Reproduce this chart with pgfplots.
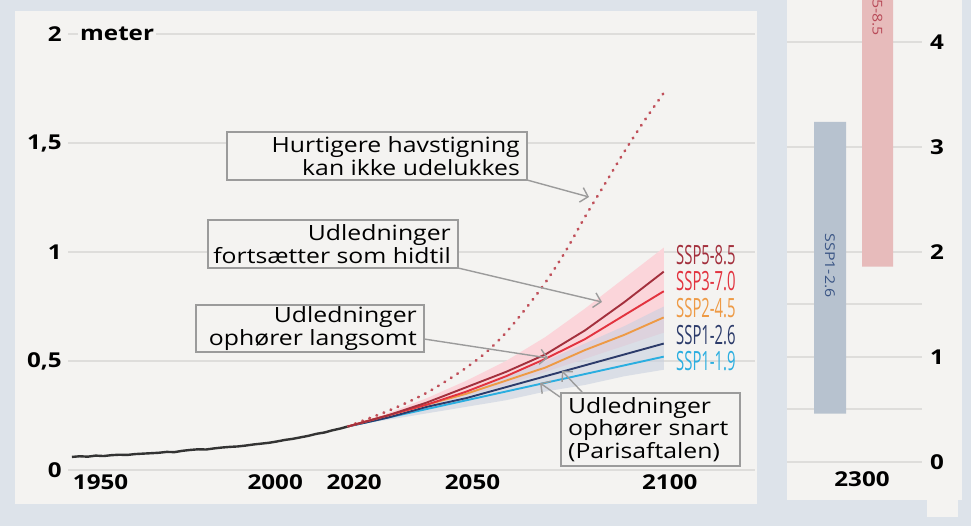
\documentclass[border=0pt]{standalone}
\usepackage{fontspec}
\setmainfont{Open Sans}[FakeStretch=1.18]
\newfontfamily\condfont[FakeStretch=0.56]{Open Sans}
\usepackage{pgfplots}
\pgfplotsset{compat=1.18}
\usetikzlibrary{arrows.meta}
\definecolor{bgout}{HTML}{DDE3EA}
\definecolor{panel}{HTML}{F4F3F1}
\definecolor{gridc}{HTML}{DEDDDB}
\definecolor{boxc}{HTML}{9B9B9B}
\definecolor{sspA}{HTML}{A3303D}
\definecolor{sspB}{HTML}{E2333F}
\definecolor{sspC}{HTML}{EE9A45}
\definecolor{sspD}{HTML}{2C3B6A}
\definecolor{sspE}{HTML}{2AAEE0}
\definecolor{dotc}{HTML}{C0505A}
\definecolor{histc}{HTML}{333333}
\definecolor{pinkband}{HTML}{FBD5DA}
\definecolor{blueband}{HTML}{C9D1DF}
\definecolor{barblue}{HTML}{B7C2CF}
\definecolor{barpink}{HTML}{E7BBBB}
\definecolor{bartxtA}{HTML}{3A5585}
\definecolor{bartxtB}{HTML}{B84A58}
\newcommand{\tickfont}{\fontsize{20.5}{24}\selectfont\bfseries}
\newcommand{\annfont}{\fontsize{21}{22.5}\selectfont}
\newcommand{\sspfont}{\condfont\fontsize{26.5}{26.5}\selectfont}
\begin{document}
\begin{tikzpicture}[x=1pt,y=1pt]
\fill[bgout] (0,0) rectangle (971,526);
\fill[panel] (15,22) rectangle (757,515);
\fill[panel] (787,26) rectangle (962,526);
\fill[panel] (927,9) rectangle (958,31);

\begin{axis}[
  at={(68pt,56pt)}, anchor=south west, scale only axis,
  width=686.5pt, height=453.4pt,
  xmin=1949, xmax=2123, ymin=0, ymax=2.08,
  axis line style={draw=none}, major tick length=0pt,
  xtick={1950,2000,2020,2050,2100},
  xticklabels={\makebox[0pt][l]{\kern-5pt 1950},2000,2020,2050,2100},
  ytick={0,0.5,1,1.5,2},
  yticklabels={0,{0,5},1,{1,5},2},
  ymajorgrids, grid style={gridc, line width=2pt},
  tick label style={font=\tickfont},
  yticklabel style={anchor=east, inner sep=0pt, xshift=-6pt},
  xticklabel style={anchor=north, inner sep=0pt, yshift=-4pt, xshift=6pt},
]
% likely ranges (upper edge forward, lower edge back)
\addplot[fill=pinkband, draw=none] coordinates {
(2020,0.20) (2030,0.26) (2040,0.33) (2050,0.41) (2060,0.50) (2070,0.61) (2080,0.74) (2090,0.88) (2100,1.02)
(2100,0.63) (2090,0.57) (2080,0.51) (2070,0.45) (2060,0.39) (2050,0.34) (2040,0.29) (2030,0.24) (2020,0.20)};
\addplot[fill=blueband, fill opacity=0.6, draw=none] coordinates {
(2020,0.20) (2030,0.25) (2040,0.30) (2050,0.36) (2060,0.43) (2070,0.50) (2080,0.58) (2090,0.66) (2100,0.75)
(2100,0.46) (2090,0.43) (2080,0.39) (2070,0.36) (2060,0.32) (2050,0.29) (2040,0.26) (2030,0.23) (2020,0.20)};
% historical
\addplot[histc, line width=2.4pt] coordinates {
(1950,0.060) (1952,0.063) (1954,0.061) (1956,0.066) (1958,0.064) (1960,0.068)
(1962,0.070) (1964,0.069) (1966,0.073) (1968,0.075) (1970,0.077) (1972,0.079)
(1974,0.083) (1976,0.082) (1978,0.088) (1980,0.092) (1982,0.095) (1984,0.094)
(1986,0.099) (1988,0.103) (1990,0.106) (1992,0.108) (1994,0.112) (1996,0.117)
(1998,0.121) (2000,0.125) (2002,0.131) (2004,0.138) (2006,0.143) (2008,0.150)
(2010,0.157) (2012,0.166) (2014,0.172) (2016,0.182) (2018,0.190) (2020,0.200)};
% dotted high-end
\addplot[dotc, line width=2.8pt, line cap=round, dash pattern=on 0.6pt off 7pt, smooth] coordinates {
(2020,0.20) (2025,0.235) (2030,0.27) (2035,0.31) (2040,0.355) (2045,0.41) (2050,0.47)
(2055,0.54) (2060,0.63) (2065,0.74) (2070,0.86) (2075,1.00) (2080,1.16) (2085,1.31)
(2090,1.46) (2095,1.60) (2100,1.73)};
% scenarios
\addplot[sspE, line width=1.9pt] coordinates {(2020,0.20) (2030,0.24) (2040,0.28) (2050,0.32) (2060,0.36) (2070,0.40) (2080,0.44) (2090,0.48) (2100,0.52)};
\addplot[sspD, line width=1.9pt] coordinates {(2020,0.20) (2030,0.24) (2040,0.29) (2050,0.33) (2060,0.38) (2070,0.43) (2080,0.48) (2090,0.53) (2100,0.58)};
\addplot[sspC, line width=1.9pt] coordinates {(2020,0.20) (2030,0.25) (2040,0.30) (2050,0.35) (2060,0.41) (2070,0.47) (2080,0.55) (2090,0.62) (2100,0.70)};
\addplot[sspB, line width=1.9pt] coordinates {(2020,0.20) (2030,0.25) (2040,0.30) (2050,0.36) (2060,0.43) (2070,0.51) (2080,0.60) (2090,0.71) (2100,0.82)};
\addplot[sspA, line width=1.9pt] coordinates {(2020,0.20) (2030,0.25) (2040,0.31) (2050,0.38) (2060,0.45) (2070,0.53) (2080,0.64) (2090,0.77) (2100,0.91)};
\end{axis}

\begin{axis}[
  at={(787pt,64pt)}, anchor=south west, scale only axis,
  width=135pt, height=462pt,
  xmin=0, xmax=135, ymin=0, ymax=4.4,
  axis line style={draw=none}, major tick length=0pt,
  ytick={0,0.5,1,1.5,2,3,4}, yticklabels={0,,1,,2,3,4},
  yticklabel pos=right,
  xtick={75}, xticklabels={2300},
  ymajorgrids, grid style={gridc, line width=2pt},
  tick label style={font=\tickfont},
  yticklabel style={anchor=west, inner sep=0pt, xshift=8pt},
  xticklabel style={anchor=north, inner sep=0pt, yshift=-9pt},
]
\addplot[fill=barblue, draw=none] coordinates {(27,0.46) (59,0.46) (59,3.24) (27,3.24) (27,0.46)};
\addplot[fill=barpink, draw=none] coordinates {(75,1.86) (106,1.86) (106,6.8) (75,6.8) (75,1.86)};
\node[rotate=-90, inner sep=0pt, text=bartxtA, font=\fontsize{13.5}{14}\selectfont] at (axis cs:43,1.87) {SSP1-2.6};
\node[rotate=-90, inner sep=0pt, text=bartxtB, font=\fontsize{13.5}{14}\selectfont] at (axis cs:90.5,4.36) {SSP5-8.5};
\end{axis}

% y unit label
\node[anchor=west, inner sep=2pt, fill=panel, font=\tickfont] at (78,492) {meter};

% scenario labels
\node[anchor=west, inner sep=0pt, font=\sspfont, text=sspA] at (676,271) {SSP5-8.5};
\node[anchor=west, inner sep=0pt, font=\sspfont, text=sspB] at (676,244.5) {SSP3-7.0};
\node[anchor=west, inner sep=0pt, font=\sspfont, text=sspC] at (676,218) {SSP2-4.5};
\node[anchor=west, inner sep=0pt, font=\sspfont, text=sspD] at (676,191) {SSP1-2.6};
\node[anchor=west, inner sep=0pt, font=\sspfont, text=sspE] at (676,164.5) {SSP1-1.9};

% annotations
\tikzset{arr/.style={boxc, line width=1.4pt, -{Straight Barb[length=7pt,width=15pt]}}}
\draw[arr] (527,346) -- (589,329);
\draw[arr] (458,258) -- (602,224);
\draw[arr] (424,187) -- (548,168);
\draw[arr] (560,129) -- (540,143);
\draw[arr] (582,134) -- (562,155);

\draw[boxc, line width=1.2pt, fill=panel] (227,394) rectangle (527,346);
\node[anchor=east, align=right, inner sep=0pt, font=\annfont] at (520,370) {Hurtigere havstigning\\kan ikke udelukkes};
\draw[boxc, line width=1.2pt, fill=panel] (208,306) rectangle (458,258);
\node[anchor=east, align=right, inner sep=0pt, font=\annfont] at (451,282) {Udledninger\\fortsætter som hidtil};
\draw[boxc, line width=1.2pt, fill=panel] (196,221) rectangle (424,174);
\node[anchor=east, align=right, inner sep=0pt, font=\annfont] at (417,197.5) {Udledninger\\ophører langsomt};
\draw[boxc, line width=1.2pt, fill=panel] (561,133) rectangle (740,60);
\node[anchor=west, align=left, inner sep=0pt, font=\annfont] at (568,96.5) {Udledninger\\ophører snart\\(Parisaftalen)};
\pgfresetboundingbox
\path[use as bounding box] (0,0) rectangle (971,526);
\end{tikzpicture}
\end{document}
